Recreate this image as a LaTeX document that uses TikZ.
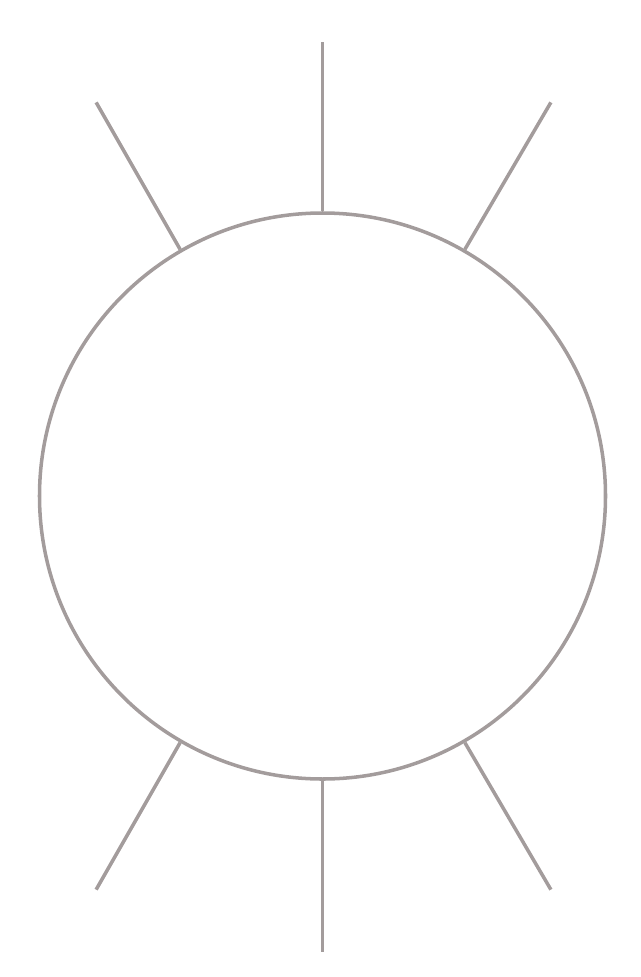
\documentclass[tikz,border=0pt]{standalone}
\definecolor{ringgray}{RGB}{163,156,156}
\begin{document}
\begin{tikzpicture}[x=0.03cm, y=-0.03cm, line width=3pt, draw=ringgray]
        \useasboundingbox (0,0) rectangle (640,977);
        \node[circle, draw=ringgray, line width=3pt, inner sep=0pt, minimum size=566*0.03cm] (ring) at (322.5,496) {};
        \draw[ringgray] (ring.90) -- (ring.center |- 0,42);
        \draw[ringgray] (ring.270) -- (ring.center |- 0,952);
        \draw[ringgray] (ring.120) -- ++(-84,-147);
        \draw[ringgray] (ring.60) -- ++(86,-147);
        \draw[ringgray] (ring.240) -- ++(-84,147);
        \draw[ringgray] (ring.300) -- ++(86,147);
    \end{tikzpicture}
\end{document}
